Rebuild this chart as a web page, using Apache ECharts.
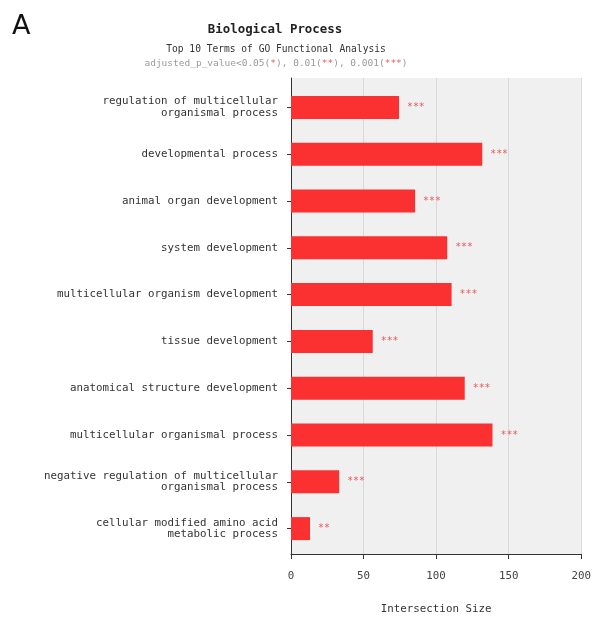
<!DOCTYPE html>
<html>
<head>
<meta charset="utf-8">
<script src="https://cdn.jsdelivr.net/npm/echarts@6/dist/echarts.min.js"></script>
<style>
  html, body { margin: 0; padding: 0; background: #fff; }
  #chart { width: 594px; height: 620px; }
</style>
</head>
<body>
<div id="chart"></div>
<script>
// GO terms, top to bottom
const categories = [
  'regulation of multicellular\norganismal process',
  'developmental process',
  'animal organ development',
  'system development',
  'multicellular organism development',
  'tissue development',
  'anatomical structure development',
  'multicellular organismal process',
  'negative regulation of multicellular\norganismal process',
  'cellular modified amino acid\nmetabolic process'
];
const intersectionSize = [74, 131, 85, 107, 110, 56, 119, 138, 33, 13];
const significance = ['***', '***', '***', '***', '***', '***', '***', '***', '***', '**'];
const xTicks = [0, 50, 100, 150, 200];

const mono = 'DejaVu Sans Mono';
const chart = echarts.init(document.getElementById('chart'), null, { renderer: 'canvas' });

chart.setOption({
  animation: false,
  backgroundColor: '#fff',
  title: [
    { text: 'A', left: 7, top: 8,
      textStyle: { fontFamily: 'DejaVu Sans', fontWeight: 'normal', fontSize: 27, color: '#111' } },
    { text: 'Biological Process', left: 270, textAlign: 'center', top: 19,
      textStyle: { fontFamily: mono, fontWeight: 'bold', fontSize: 12.4, color: '#222' } },
    { text: 'Top 10 Terms of GO Functional Analysis', left: 271, textAlign: 'center', top: 39,
      textStyle: { fontFamily: mono, fontWeight: 'normal', fontSize: 9.6, color: '#333' } },
    { text: 'adjusted_p_value<0.05({s|*}), 0.01({s|**}), 0.001({s|***})', left: 271, textAlign: 'center', top: 54,
      textStyle: { fontFamily: mono, fontWeight: 'normal', fontSize: 9.5, color: '#9a9a9a',
        rich: { s: { fontFamily: mono, fontSize: 9.5, color: '#e85a5a' } } } }
  ],
  grid: [
    { left: 291, width: 292, top: 78, height: 480, show: true, backgroundColor: '#f0f0f0', borderWidth: 0 },
    { left: 291, width: 292, top: 84, height: 468, show: false }
  ],
  xAxis: [
    { gridIndex: 0, type: 'value', min: xTicks[0], max: xTicks[xTicks.length - 1], interval: 50,
      name: 'Intersection Size', nameLocation: 'middle', nameGap: 50,
      nameTextStyle: { fontFamily: mono, fontSize: 10.8, color: '#333' },
      axisLine: { show: true, lineStyle: { color: '#333', width: 1 } },
      axisTick: { show: true, length: 5, lineStyle: { color: '#333' } },
      axisLabel: { fontFamily: mono, fontSize: 10.8, color: '#444', margin: 17 },
      splitLine: { show: true, lineStyle: { color: '#d9d9d9', width: 1 } } },
    { gridIndex: 1, type: 'value', min: xTicks[0], max: xTicks[xTicks.length - 1], show: false }
  ],
  yAxis: [
    { gridIndex: 0, type: 'category', data: categories, inverse: true,
      axisLine: { show: true, lineStyle: { color: '#333', width: 1 } },
      axisTick: { show: false }, axisLabel: { show: false }, splitLine: { show: false } },
    { gridIndex: 1, type: 'category', data: categories, inverse: true,
      axisLine: { show: false },
      axisTick: { show: true, alignWithLabel: true, length: 4, lineStyle: { color: '#333' } },
      axisLabel: { fontFamily: mono, fontSize: 10.8, color: '#333', margin: 13, lineHeight: 11.5, align: 'right' } }
  ],
  series: [{
    type: 'bar',
    xAxisIndex: 1,
    yAxisIndex: 1,
    data: intersectionSize,
    barWidth: 23,
    itemStyle: { color: '#fb3131' },
    label: {
      show: true,
      position: 'right',
      distance: 8,
      fontFamily: mono,
      fontSize: 9.8,
      color: '#e85a5a',
      formatter: p => significance[p.dataIndex]
    }
  }]
});
</script>
</body>
</html>
